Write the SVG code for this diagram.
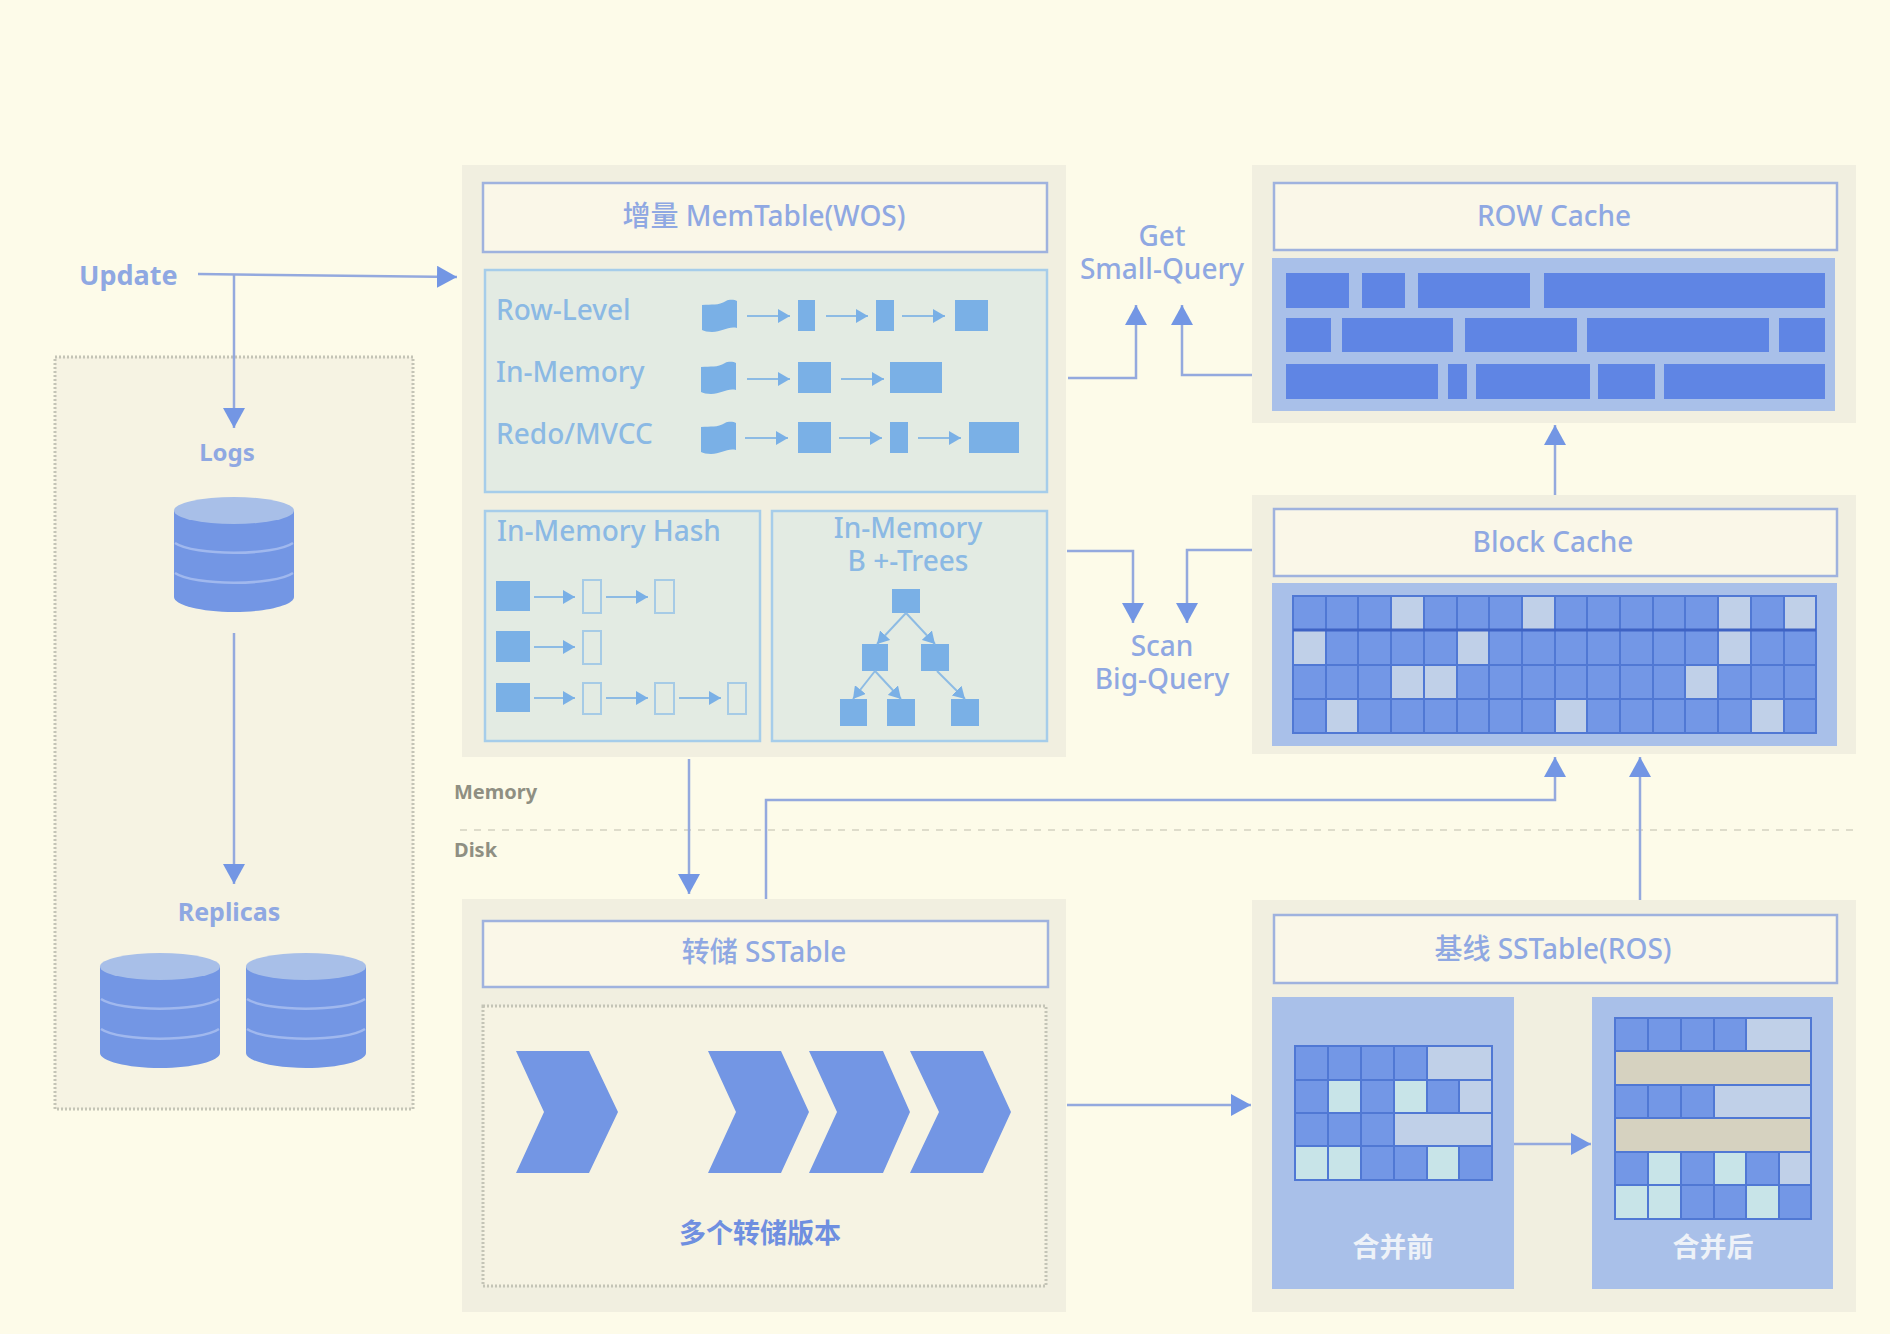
<svg xmlns="http://www.w3.org/2000/svg" width="1890" height="1334" viewBox="0 0 1890 1334">
<style>
text{font-family:"Noto Sans","Noto Sans CJK SC",sans-serif}
.panel{fill:#f1efe0}
.hdr{fill:#faf7e8;stroke:#9fb2de;stroke-width:2.5}
.htxt{font-size:28px;font-weight:500;fill:#8fa8e2;text-anchor:middle}
.teal{fill:#e3ebe3;stroke:#a6cdea;stroke-width:2.5}
.ttxt{font-size:28px;font-weight:500;fill:#8bb9e4}
.ic{fill:#7ab0e6}
.ho{fill:none;stroke:#a6cbe6;stroke-width:2}
.lbl{font-size:26px;font-weight:700;fill:#8fa8e2;text-anchor:middle}
.sep{font-size:20px;font-weight:700;fill:#8f8f82}
.dot{fill:#f6f3e3;stroke:#c4c4b6;stroke-width:3;stroke-dasharray:2 2}
.bg{fill:#a9c0e9}
.row{fill:#5f85e4}
.cell{fill:#7397e6}
.lt{fill:#c0d0e8}
.tl{fill:#c8e4e8}
.tan{fill:#d6d2c0}
.gl{fill:none;stroke:#5078d4;stroke-width:2}
.chev{fill:#7396e4}
.wh{font-size:27px;font-weight:700;fill:#eef2f8;text-anchor:middle}
.c{fill:none;stroke:#94a9de;stroke-width:2.5}
.s{fill:none;stroke:#8dbbe4;stroke-width:2}
</style>
<defs>
<marker id="a" markerUnits="userSpaceOnUse" markerWidth="20" markerHeight="22" refX="20" refY="11" orient="auto"><path d="M0 0L20 11L0 22Z" fill="#7396e4"/></marker>
<marker id="b" markerUnits="userSpaceOnUse" markerWidth="12" markerHeight="14" refX="12" refY="7" orient="auto"><path d="M0 0L12 7L0 14Z" fill="#7ab0e6"/></marker>
<g id="cyl">
<path d="M0 14V100C0 108 27 115 60 115C93 115 120 108 120 100V14Z" fill="#7396e4"/>
<ellipse cx="60" cy="13.5" rx="60" ry="13.5" fill="#a8bfe8"/>
<path d="M1 46C20 59 100 59 119 46M1 76C20 89 100 89 119 76" fill="none" stroke="#a0b8ee" stroke-width="2.5"/>
</g>
<path id="flag" class="ic" d="M0 5C10 4 16 6 24 1C28 -1 33 0 35 1V28C26 26 20 32 10 32C6 32 2 31 0 30Z"/>
</defs>
<rect width="1890" height="1334" fill="#fdfbe9"/>

<g id="storage-box"><rect class="dot" x="55" y="357" width="358" height="752"/></g>
<g id="mem-disk-divider">
<path d="M460 830H1860" fill="none" stroke="#dedccb" stroke-width="2" stroke-dasharray="7 7"/>
<text class="sep" x="454" y="799">Memory</text>
<text class="sep" x="454" y="857">Disk</text>
</g>

<g id="update"><text x="79" y="285" font-size="27" font-weight="700" fill="#8fa8e2">Update</text></g>
<g id="logs"><text class="lbl" x="227" y="461" style="font-size:24px">Logs</text><use href="#cyl" x="174" y="497"/></g>
<g id="replicas"><text class="lbl" x="229" y="921" style="font-size:25px">Replicas</text><use href="#cyl" x="100" y="953"/><use href="#cyl" x="246" y="953"/></g>

<g id="memtable">
<rect class="panel" x="462" y="165" width="604" height="592"/>
<rect class="hdr" x="483" y="183" width="564" height="69"/>
<text class="htxt" x="764" y="226">增量 MemTable(WOS)</text>
<rect class="teal" x="485" y="270" width="562" height="222"/>
<text class="ttxt" x="496" y="320">Row-Level</text>
<text class="ttxt" x="496" y="382">In-Memory</text>
<text class="ttxt" x="496" y="444">Redo/MVCC</text>
<use href="#flag" x="702" y="300"/>
<rect class="ic" x="798" y="300" width="17" height="31"/>
<rect class="ic" x="876" y="300" width="18" height="31"/>
<rect class="ic" x="955" y="300" width="33" height="31"/>
<path class="s" marker-end="url(#b)" d="M747 316H790"/>
<path class="s" marker-end="url(#b)" d="M826 316H868"/>
<path class="s" marker-end="url(#b)" d="M902 316H945"/>
<use href="#flag" x="701" y="362"/>
<rect class="ic" x="798" y="362" width="33" height="31"/>
<rect class="ic" x="890" y="362" width="52" height="31"/>
<path class="s" marker-end="url(#b)" d="M747 379H790"/>
<path class="s" marker-end="url(#b)" d="M841 379H884"/>
<use href="#flag" x="701" y="422"/>
<rect class="ic" x="798" y="422" width="33" height="31"/>
<rect class="ic" x="890" y="422" width="18" height="31"/>
<rect class="ic" x="969" y="422" width="50" height="31"/>
<path class="s" marker-end="url(#b)" d="M745 438H788"/>
<path class="s" marker-end="url(#b)" d="M839 438H882"/>
<path class="s" marker-end="url(#b)" d="M918 438H961"/>
</g>

<g id="hash">
<rect class="teal" x="485" y="511" width="275" height="230"/>
<text class="ttxt" x="497" y="541">In-Memory Hash</text>
<rect class="ic" x="496" y="581" width="34" height="30"/>
<rect class="ic" x="496" y="631" width="34" height="31"/>
<rect class="ic" x="496" y="683" width="34" height="29"/>
<rect class="ho" x="583" y="580" width="18" height="33"/>
<rect class="ho" x="655" y="580" width="19" height="33"/>
<rect class="ho" x="583" y="631" width="18" height="33"/>
<rect class="ho" x="583" y="683" width="18" height="31"/>
<rect class="ho" x="655" y="683" width="19" height="31"/>
<rect class="ho" x="728" y="683" width="18" height="31"/>
<path class="s" marker-end="url(#b)" d="M534 597H575"/>
<path class="s" marker-end="url(#b)" d="M606 597H648"/>
<path class="s" marker-end="url(#b)" d="M534 647H575"/>
<path class="s" marker-end="url(#b)" d="M534 698H575"/>
<path class="s" marker-end="url(#b)" d="M606 698H648"/>
<path class="s" marker-end="url(#b)" d="M679 698H721"/>
</g>

<g id="btree">
<rect class="teal" x="772" y="511" width="275" height="230"/>
<text class="ttxt" x="908" y="538" text-anchor="middle">In-Memory</text>
<text class="ttxt" x="908" y="571" text-anchor="middle">B +-Trees</text>
<rect class="ic" x="892" y="589" width="28" height="24"/>
<rect class="ic" x="862" y="644" width="26" height="27"/>
<rect class="ic" x="921" y="644" width="28" height="27"/>
<rect class="ic" x="840" y="699" width="27" height="27"/>
<rect class="ic" x="887" y="699" width="28" height="27"/>
<rect class="ic" x="951" y="699" width="28" height="27"/>
<path class="s" marker-end="url(#b)" d="M906 613L877 644"/>
<path class="s" marker-end="url(#b)" d="M906 613L935 644"/>
<path class="s" marker-end="url(#b)" d="M875 671L853 699"/>
<path class="s" marker-end="url(#b)" d="M875 671L901 699"/>
<path class="s" marker-end="url(#b)" d="M937 671L965 699"/>
</g>

<g id="row-cache">
<rect class="panel" x="1252" y="165" width="604" height="258"/>
<rect class="hdr" x="1274" y="183" width="563" height="67"/>
<text class="htxt" x="1554" y="226">ROW Cache</text>
<rect class="bg" x="1272" y="258" width="563" height="153"/>
<rect class="row" x="1286" y="273" width="63" height="35"/>
<rect class="row" x="1362" y="273" width="43" height="35"/>
<rect class="row" x="1418" y="273" width="112" height="35"/>
<rect class="row" x="1544" y="273" width="281" height="35"/>
<rect class="row" x="1286" y="318" width="45" height="34"/>
<rect class="row" x="1342" y="318" width="111" height="34"/>
<rect class="row" x="1465" y="318" width="112" height="34"/>
<rect class="row" x="1587" y="318" width="182" height="34"/>
<rect class="row" x="1779" y="318" width="46" height="34"/>
<rect class="row" x="1286" y="364" width="152" height="35"/>
<rect class="row" x="1448" y="364" width="19" height="35"/>
<rect class="row" x="1476" y="364" width="114" height="35"/>
<rect class="row" x="1598" y="364" width="57" height="35"/>
<rect class="row" x="1664" y="364" width="161" height="35"/>
</g>

<g id="block-cache">
<rect class="panel" x="1252" y="495" width="604" height="259"/>
<rect class="hdr" x="1274" y="509" width="563" height="67"/>
<text class="htxt" x="1553" y="552">Block Cache</text>
<rect class="bg" x="1272" y="583" width="565" height="163"/>
<rect class="cell" x="1293" y="596" width="523" height="137"/>
<rect class="lt" x="1391" y="597" width="33" height="33"/>
<rect class="lt" x="1522" y="597" width="33" height="33"/>
<rect class="lt" x="1718" y="597" width="33" height="33"/>
<rect class="lt" x="1784" y="597" width="32" height="33"/>
<rect class="lt" x="1293" y="630" width="33" height="35"/>
<rect class="lt" x="1457" y="630" width="33" height="35"/>
<rect class="lt" x="1718" y="630" width="33" height="35"/>
<rect class="lt" x="1391" y="665" width="33" height="34"/>
<rect class="lt" x="1424" y="665" width="33" height="34"/>
<rect class="lt" x="1685" y="665" width="33" height="34"/>
<rect class="lt" x="1326" y="699" width="33" height="34"/>
<rect class="lt" x="1555" y="699" width="32" height="34"/>
<rect class="lt" x="1751" y="699" width="33" height="34"/>
<path class="gl" d="M1293 596H1816V733H1293ZM1293 665H1816M1293 699H1816M1326 596V733M1358 596V733M1391 596V733M1424 596V733M1457 596V733M1489 596V733M1522 596V733M1555 596V733M1587 596V733M1620 596V733M1653 596V733M1685 596V733M1718 596V733M1751 596V733M1784 596V733"/>
<path d="M1293 630H1816" fill="none" stroke="#3f63c4" stroke-width="3"/>
</g>

<g id="dump-sstable">
<rect class="panel" x="462" y="899" width="604" height="413"/>
<rect class="hdr" x="483" y="921" width="565" height="66"/>
<text class="htxt" x="764" y="962">转储 SSTable</text>
<rect class="dot" x="483" y="1006" width="563" height="280"/>
<path class="chev" d="M516 1051H589L618 1112L589 1173H516L544 1112Z"/>
<path class="chev" d="M708 1051H781L809 1112L781 1173H708L736 1112Z"/>
<path class="chev" d="M809 1051H883L910 1112L883 1173H809L837 1112Z"/>
<path class="chev" d="M910 1051H983L1011 1112L983 1173H910L939 1112Z"/>
<text x="760" y="1243" font-size="27" font-weight="700" fill="#6f8fe0" text-anchor="middle">多个转储版本</text>
</g>

<g id="base-sstable">
<rect class="panel" x="1252" y="900" width="604" height="412"/>
<rect class="hdr" x="1274" y="915" width="563" height="68"/>
<text class="htxt" x="1553" y="959">基线 SSTable(ROS)</text>
<rect class="bg" x="1272" y="997" width="242" height="292"/>
<rect class="bg" x="1592" y="997" width="241" height="292"/>
<rect class="cell" x="1295" y="1046" width="197" height="134"/>
<rect class="lt" x="1427" y="1046" width="65" height="34"/>
<rect class="tl" x="1328" y="1080" width="33" height="33"/>
<rect class="tl" x="1394" y="1080" width="33" height="33"/>
<rect class="lt" x="1459" y="1080" width="33" height="33"/>
<rect class="lt" x="1394" y="1113" width="98" height="33"/>
<rect class="tl" x="1295" y="1146" width="33" height="34"/>
<rect class="tl" x="1328" y="1146" width="33" height="34"/>
<rect class="tl" x="1427" y="1146" width="32" height="34"/>
<path class="gl" d="M1295 1046H1492V1180H1295ZM1295 1080H1492M1295 1113H1492M1295 1146H1492M1328 1046V1180M1361 1046V1180M1394 1046V1180M1427 1046V1113M1427 1146V1180M1459 1080V1113M1459 1146V1180"/>
<text class="wh" x="1393" y="1257">合并前</text>
<rect class="cell" x="1615" y="1018" width="196" height="201"/>
<rect class="lt" x="1746" y="1018" width="65" height="33"/>
<rect class="tan" x="1615" y="1051" width="196" height="34"/>
<rect class="lt" x="1714" y="1085" width="97" height="33"/>
<rect class="tan" x="1615" y="1118" width="196" height="34"/>
<rect class="tl" x="1648" y="1152" width="33" height="33"/>
<rect class="tl" x="1714" y="1152" width="32" height="33"/>
<rect class="lt" x="1779" y="1152" width="32" height="33"/>
<rect class="tl" x="1615" y="1185" width="33" height="34"/>
<rect class="tl" x="1648" y="1185" width="33" height="34"/>
<rect class="tl" x="1746" y="1185" width="33" height="34"/>
<path class="gl" d="M1615 1018H1811V1219H1615ZM1615 1051H1811M1615 1085H1811M1615 1118H1811M1615 1152H1811M1615 1185H1811M1648 1018V1051M1681 1018V1051M1714 1018V1051M1746 1018V1051M1648 1085V1118M1681 1085V1118M1714 1085V1118M1648 1152V1219M1681 1152V1219M1714 1152V1219M1746 1152V1219M1779 1152V1219"/>
<text class="wh" x="1713" y="1257">合并后</text>
</g>

<g id="query-labels">
<text class="htxt" x="1162" y="246">Get</text>
<text class="htxt" x="1162" y="279">Small-Query</text>
<text class="htxt" x="1162" y="656">Scan</text>
<text class="htxt" x="1162" y="689">Big-Query</text>
</g>

<g id="connectors">
<path class="c" marker-end="url(#a)" d="M198 274L457 277"/>
<path class="c" marker-end="url(#a)" d="M234 274V428"/>
<path class="c" marker-end="url(#a)" d="M234 633V884"/>
<path class="c" marker-end="url(#a)" d="M1068 378H1136V305"/>
<path class="c" marker-end="url(#a)" d="M1252 375H1182V305"/>
<path class="c" marker-end="url(#a)" d="M1067 551H1133V623"/>
<path class="c" marker-end="url(#a)" d="M1252 550H1187V623"/>
<path class="c" marker-end="url(#a)" d="M1555 495V425"/>
<path class="c" marker-end="url(#a)" d="M689 759V894"/>
<path class="c" marker-end="url(#a)" d="M766 899V800H1555V757"/>
<path class="c" marker-end="url(#a)" d="M1640 900V757"/>
<path class="c" marker-end="url(#a)" d="M1067 1105H1251"/>
<path class="c" marker-end="url(#a)" d="M1514 1144H1591"/>
</g>
</svg>
